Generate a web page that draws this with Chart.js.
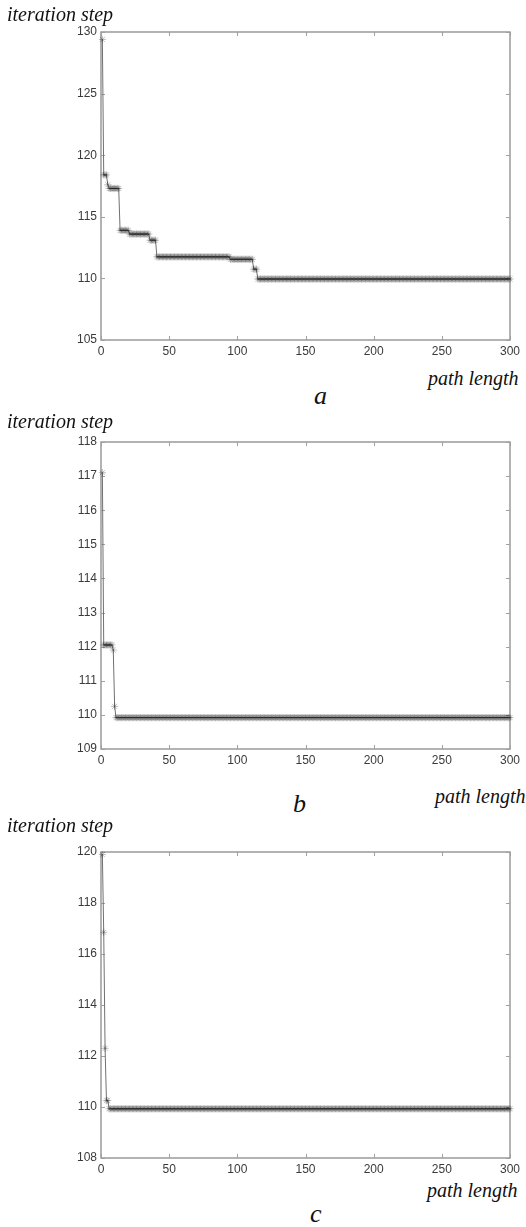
<!DOCTYPE html>
<html>
<head>
<meta charset="utf-8">
<script src="https://cdn.jsdelivr.net/npm/chart.js@4.4.1/dist/chart.umd.min.js"></script>
<style>
  body { margin: 0; background: #fff; }
  #page { position: relative; width: 526px; height: 1227px; overflow: hidden; }
  canvas { position: absolute; left: 0; }
  .lbl { position: absolute; font-family: 'Liberation Serif', 'Times New Roman', serif; font-style: italic; color: #111; white-space: nowrap; z-index: 2; }
  .ax { font-size: 20px; line-height: 20px; }
  .cap { font-size: 26px; line-height: 26px; }
</style>
</head>
<body>
<div id="page">
  <canvas id="chartA" width="526" height="360" style="top:0px"></canvas>
  <canvas id="chartB" width="526" height="349" style="top:420px"></canvas>
  <canvas id="chartC" width="526" height="348" style="top:830px"></canvas>

  <div class="lbl ax" style="left:7px; top:4px">iteration step</div>
  <div class="lbl ax" style="left:428px; top:368px">path length</div>
  <div class="lbl cap" style="left:314px; top:383px">a</div>

  <div class="lbl ax" style="left:7px; top:411px">iteration step</div>
  <div class="lbl ax" style="left:435px; top:786px">path length</div>
  <div class="lbl cap" style="left:293px; top:791px">b</div>

  <div class="lbl ax" style="left:7px; top:815px">iteration step</div>
  <div class="lbl ax" style="left:427px; top:1180px">path length</div>
  <div class="lbl cap" style="left:310px; top:1201px">c</div>
</div>
<script>
const pathMax = 300;
const xTickStep = 50;

// each series is a list of flat runs: first path length of the run and its value
const aRunStart = [1, 2, 5, 6, 14, 21, 36, 41, 95, 112, 115];
const aRunValue = [129.4, 118.4, 117.6, 117.3, 113.9, 113.6, 113.1, 111.75, 111.55, 110.75, 109.95];

const bRunStart = [1, 2, 9, 10, 11];
const bRunValue = [117.1, 112.05, 111.9, 110.25, 109.92];

const cRunStart = [1, 2, 3, 4, 6];
const cRunValue = [119.9, 116.85, 112.3, 110.25, 109.93];

const aYRange = [105, 130, 5];
const bYRange = [109, 118, 1];
const cYRange = [108, 120, 2];

function expandRuns(starts, values, last) {
  const pts = [];
  for (let i = 0; i < starts.length; i++) {
    const end = i + 1 < starts.length ? starts[i + 1] - 1 : last;
    for (let x = starts[i]; x <= end; x++) {
      pts.push({x: x, y: values[i]});
    }
  }
  return pts;
}

const boxTicks = {
  id: 'boxTicks',
  beforeDatasetsDraw(chart) {
    const {ctx, chartArea: a, scales: {x, y}} = chart;
    ctx.save();
    ctx.strokeStyle = '#8a8a8a';
    ctx.lineWidth = 1.3;
    ctx.strokeRect(a.left, a.top, a.right - a.left, a.bottom - a.top);
    ctx.lineWidth = 1;
    ctx.strokeStyle = '#a0a0a0';
    ctx.beginPath();
    x.ticks.forEach(t => {
      const px = Math.round(x.getPixelForValue(t.value)) + 0.5;
      ctx.moveTo(px, a.bottom);
      ctx.lineTo(px, a.bottom - 4);
      ctx.moveTo(px, a.top);
      ctx.lineTo(px, a.top + 4);
    });
    y.ticks.forEach(t => {
      const py = Math.round(y.getPixelForValue(t.value)) + 0.5;
      ctx.moveTo(a.left, py);
      ctx.lineTo(a.left + 4, py);
      ctx.moveTo(a.right, py);
      ctx.lineTo(a.right - 4, py);
    });
    ctx.stroke();
    ctx.restore();
  }
};

function makeChart(id, starts, values, yRange, padTop) {
  const ctx = document.getElementById(id).getContext('2d');
  return new Chart(ctx, {
    type: 'line',
    data: {
      datasets: [{
        data: expandRuns(starts, values, pathMax),
        borderColor: '#707070',
        borderWidth: 1,
        pointStyle: 'star',
        pointRadius: 3.6,
        pointBorderWidth: 0.9,
        pointBorderColor: 'rgba(30,30,30,0.32)',
        pointBackgroundColor: 'rgba(0,0,0,0)',
        fill: false,
        tension: 0,
        clip: false
      }]
    },
    options: {
      responsive: false,
      animation: false,
      layout: {
        padding: {top: padTop, right: 16, bottom: 0, left: 0}
      },
      scales: {
        x: {
          type: 'linear',
          min: 0,
          max: pathMax,
          grid: {display: false, drawTicks: false},
          border: {display: false},
          ticks: {
            stepSize: xTickStep,
            color: '#3a3a3a',
            padding: 4,
            maxRotation: 0,
            font: {family: "'Liberation Sans', Arial, sans-serif", size: 12}
          },
          afterFit(scale) { scale.height = 20; }
        },
        y: {
          min: yRange[0],
          max: yRange[1],
          grid: {display: false, drawTicks: false},
          border: {display: false},
          ticks: {
            stepSize: yRange[2],
            color: '#3a3a3a',
            padding: 4,
            font: {family: "'Liberation Sans', Arial, sans-serif", size: 12}
          },
          afterFit(scale) { scale.width = 101; }
        }
      },
      plugins: {
        legend: {display: false},
        tooltip: {enabled: false},
        title: {display: false}
      }
    },
    plugins: [boxTicks]
  });
}

makeChart('chartA', aRunStart, aRunValue, aYRange, 32);
makeChart('chartB', bRunStart, bRunValue, bYRange, 22);
makeChart('chartC', cRunStart, cRunValue, cYRange, 22);
</script>
</body>
</html>
